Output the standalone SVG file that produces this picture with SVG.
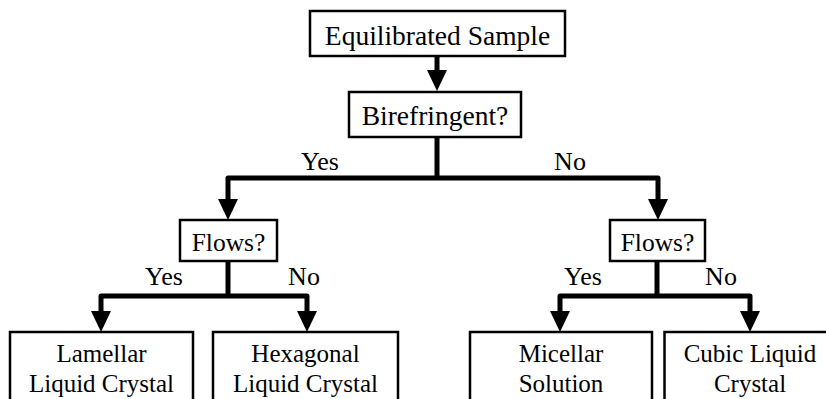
<svg xmlns="http://www.w3.org/2000/svg" width="826" height="399" viewBox="0 0 826 399">
  <style>
    .box { fill: #ffffff; stroke: #000000; stroke-width: 2.5; }
    .t { font-family: "Liberation Serif", "Times New Roman", serif; fill: #000000; text-anchor: middle; }
    .big { font-size: 27.5px; }
    .mid { font-size: 25.5px; }
    .lab { font-size: 26px; }
    .sm { font-size: 25px; }
    .wire { fill: none; stroke: #000000; stroke-width: 5; stroke-linejoin: round; }
    .head { fill: #000000; stroke: none; }
  </style>
  <defs>
    <polygon id="ah" class="head" points="-10,-21 10,-21 0,0"/>
  </defs>
  <rect width="826" height="399" fill="#ffffff"/>

  <g id="connectors">
    <path class="wire" d="M437,56 V72"/>
    <use href="#ah" x="437" y="91"/>
    <path class="wire" d="M437,137 V178 M228,201 V178 H658 V200"/>
    <use href="#ah" x="228" y="220"/>
    <use href="#ah" x="658" y="220"/>
    <path class="wire" d="M228,261 V296 M101,313 V296 H307 V313"/>
    <use href="#ah" x="101" y="332"/>
    <use href="#ah" x="307" y="332"/>
    <path class="wire" d="M657,261 V296 M560,313 V296 H750 V313"/>
    <use href="#ah" x="560" y="332"/>
    <use href="#ah" x="750" y="332"/>
  </g>

  <g id="labels">
    <text class="t lab" x="320" y="170">Yes</text>
    <text class="t lab" x="570" y="170">No</text>
    <text class="t lab" x="164" y="285">Yes</text>
    <text class="t lab" x="304" y="285">No</text>
    <text class="t lab" x="583" y="285">Yes</text>
    <text class="t lab" x="721" y="285">No</text>
  </g>

  <g id="equilibrated">
    <rect class="box" x="310" y="11" width="255" height="45"/>
    <text class="t big" x="437.5" y="45">Equilibrated Sample</text>
  </g>
  <g id="birefringent">
    <rect class="box" x="349" y="92" width="172" height="45"/>
    <text class="t big" x="435" y="124.5">Birefringent?</text>
  </g>
  <g id="flows-left">
    <rect class="box" x="180" y="220" width="97" height="41"/>
    <text class="t mid" x="228.5" y="251">Flows?</text>
  </g>
  <g id="flows-right">
    <rect class="box" x="610" y="220" width="95" height="41"/>
    <text class="t mid" x="657.5" y="251">Flows?</text>
  </g>
  <g id="lamellar">
    <rect class="box" x="10" y="332" width="183" height="90"/>
    <text class="t sm" x="101.5" y="362">Lamellar</text>
    <text class="t sm" x="101.5" y="392">Liquid Crystal</text>
  </g>
  <g id="hexagonal">
    <rect class="box" x="213" y="332" width="185" height="90"/>
    <text class="t sm" x="305.5" y="362">Hexagonal</text>
    <text class="t sm" x="305.5" y="392">Liquid Crystal</text>
  </g>
  <g id="micellar">
    <rect class="box" x="470" y="332" width="182" height="90"/>
    <text class="t sm" x="561" y="362">Micellar</text>
    <text class="t sm" x="561" y="392">Solution</text>
  </g>
  <g id="cubic">
    <rect class="box" x="664.5" y="332" width="175" height="90"/>
    <text class="t sm" x="750" y="362">Cubic Liquid</text>
    <text class="t sm" x="750" y="392">Crystal</text>
  </g>
</svg>
